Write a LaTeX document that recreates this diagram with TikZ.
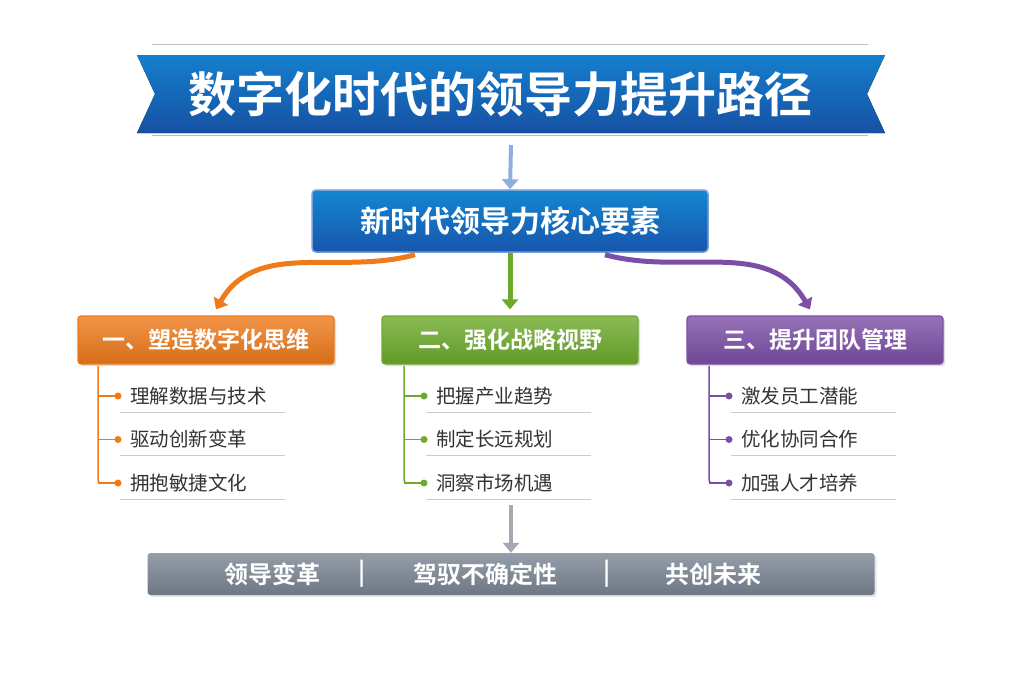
\documentclass[tikz,border=0pt]{standalone}
\usepackage{fontspec}
\newfontfamily\cjk{Noto Sans CJK SC}[BoldFont={Noto Sans CJK SC Bold}]
\usetikzlibrary{positioning, arrows.meta, calc, shadows}
\definecolor{bannerblue}{HTML}{1A5FC0}
\definecolor{corange}{HTML}{EE7A1A}
\definecolor{cgreen}{HTML}{6DAA2C}
\definecolor{cpurple}{HTML}{7B4FA6}
\definecolor{cgray}{HTML}{7A8593}
\tikzset{
    x=1pt, y=-1pt,
    headbox/.style={draw=#1, line width=1.2pt, rounded corners=3pt, text=white,
        font=\cjk\bfseries\fontsize{23}{23}\selectfont, minimum width=256pt,
        minimum height=48pt, top color=#1!80!white, bottom color=#1!90!black,
        drop shadow={opacity=0.25}},
    item/.style={anchor=west, font=\cjk\fontsize{19.5}{19.5}\selectfont, text=black!80, inner sep=0pt},
    uline/.style={draw=gray!40, line width=0.8pt},
    link/.style={line width=5pt, -{Triangle[length=10pt,width=16pt]}},
}
\begin{document}
\begin{tikzpicture}
    \useasboundingbox (0,0) rectangle (1024,683);

    % banner
    \draw[gray!50, line width=0.6pt] (152,44) -- (868,44);
    \fill[top color=bannerblue!80!cyan, bottom color=bannerblue!85!black]
        (137,55) -- (885,55) -- (867,94) -- (885,133) -- (137,133) -- (155,94) -- cycle;
    \node[font=\cjk\bfseries\fontsize{48}{48}\selectfont, text=white] (title) at (500,94) {数字化时代的领导力提升路径};
    \draw[bannerblue!40, line width=0.6pt] (152,135) -- (868,135);

    % core
    \node[draw=bannerblue!60, line width=1.5pt, rounded corners=4pt, minimum width=396pt,
        minimum height=62pt, top color=bannerblue!75!cyan, bottom color=bannerblue!90!black,
        text=white, font=\cjk\bfseries\fontsize{30}{30}\selectfont] (core) at (510,221) {新时代领导力核心要素};
    \coordinate (ttop) at (511,145);
    \draw[link, line width=4pt, bannerblue!50] (ttop) -- (core.north);

    % branches
    \node[headbox=corange] (b1) at (206,340) {一、塑造数字化思维};
    \node[headbox=cgreen]  (b2) at (510,340) {二、强化战略视野};
    \node[headbox=cpurple] (b3) at (815,340) {三、提升团队管理};

    \draw[link, corange] ($(core.south)+(-95,2)$) to[out=195, in=60] ($(b1.north)+(10,-6)$);
    \draw[link, cgreen] (core.south) -- ($(b2.north)+(0,-6)$);
    \draw[link, cpurple] ($(core.south)+(95,2)$) to[out=-15, in=120] ($(b3.north)+(-5,-6)$);

    % items
    \foreach \head/\x/\co/\a/\b/\c in {
        b1/98/corange/理解数据与技术/驱动创新变革/拥抱敏捷文化,
        b2/404/cgreen/把握产业趋势/制定长远规划/洞察市场机遇,
        b3/709/cpurple/激发员工潜能/优化协同合作/加强人才培养}{
        \draw[\co, line width=1.5pt, rounded corners=3pt]
            (\x,366) -- (\x,483) -- (\x+20,483);
        \foreach \t [count=\i] in {\a,\b,\c}{
            \pgfmathsetmacro{\yy}{396+(\i-1)*43.5}
            \draw[\co, line width=1.5pt] (\x,\yy) -- (\x+20,\yy);
            \fill[\co] (\x+20,\yy) circle (3.5pt);
            \node[item] (\head t\i) at (\x+32,\yy) {\t};
            \draw[uline] (\x+22,\yy+16) -- (\x+187,\yy+16);
        }
    }

    % bottom
    \node[rounded corners=3pt, minimum width=727pt, minimum height=42pt,
        top color=cgray!80!white, bottom color=cgray!90!black,
        drop shadow={opacity=0.2}] (bar) at (511,574) {};
    \coordinate (btop) at (511,505);
    \draw[link, line width=4pt, cgray!70] (btop) -- (bar.north);
    \foreach \t/\x in {领导变革/272, |/362, 驾驭不确定性/485, |/607, 共创未来/713}
        \node[font=\cjk\bfseries\fontsize{24}{24}\selectfont, text=white] at (\x,574) {\t};
\end{tikzpicture}
\end{document}
